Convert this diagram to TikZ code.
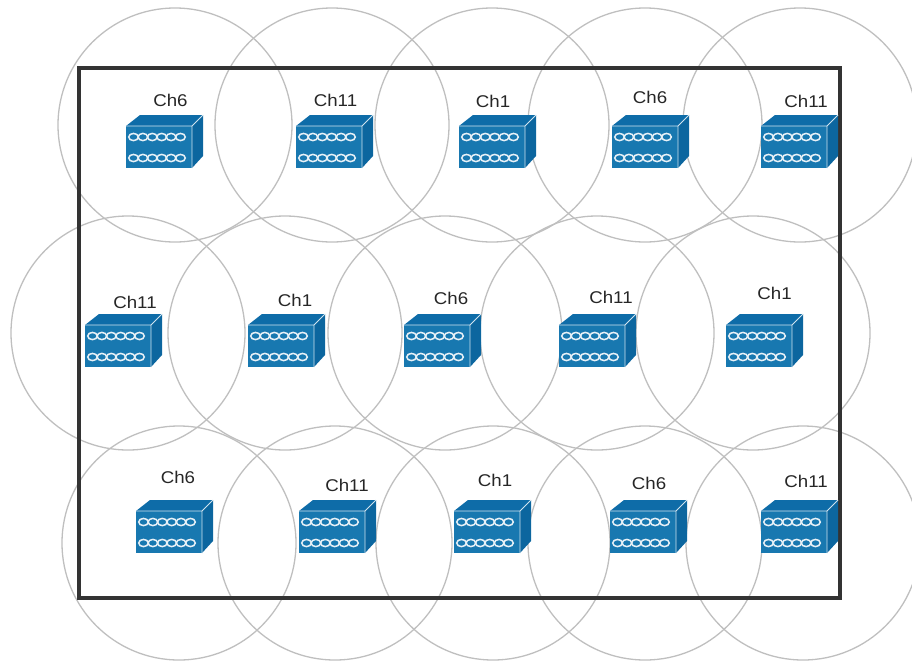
\documentclass[tikz,border=0pt]{standalone}
\usepackage{fontspec}
\setmainfont{Liberation Sans}
\usetikzlibrary{positioning}
\definecolor{apfront}{HTML}{1878B0}
\definecolor{aptop}{HTML}{0E6CA8}
\definecolor{apside}{HTML}{0C669F}

\begin{document}
\begin{tikzpicture}[
  x=1pt,y=-1pt,
  cell/.style={draw=black!25,line width=1.3pt,circle,minimum size=234pt,inner sep=0pt},
  room/.style={draw=black!80,line width=3.8pt},
  chan/.style={font=\fontsize{17}{17}\selectfont,text=black!85,inner sep=0pt,xscale=1.1},
  pics/apbox/.style={code={
    \fill[aptop] (0,11) -- (14,0) -- (77,0) -- (66,11) -- cycle;
    \fill[apside] (66,11) -- (77,0) -- (77,41) -- (66,53) -- cycle;
    \fill[apfront] (0,11) rectangle (66,53);
    \draw[white!80!apfront,line width=.8pt] (0,11) -- (66,11) -- (77,0) (66,11) -- (66,53);
    \foreach \rowy in {22,43}
      \foreach \k in {0,...,5}
        \draw[white!90!apfront,line width=1.5pt] (7.5+9.4*\k,\rowy) ellipse (4.8 and 3.6);
  }}
]
  \useasboundingbox (0,0) rectangle (912,662);

  % coverage cells
  \foreach \cx/\cy [count=\i] in {175/125,332/125,492/125,645/125,800/125,
      128/333,285/333,445/333,597/333,753/333,
      179/543,335/543,493/543,645/543,803/543}
    \node[cell] (cell\i) at (\cx,\cy) {};

  % room outline
  \node[room,minimum width=761pt,minimum height=530pt,inner sep=0pt] (room) at (459.5,333) {};

  % access points with channel labels
  \foreach \ax/\ay/\lx/\ly/\chname [count=\i] in {
      126/115/170.5/100/Ch6,296/115/335.5/100/Ch11,459/115/493/101/Ch1,612/115/650/97/Ch6,761/115/806/101/Ch11,
      85/314/135/302/Ch11,248/314/295/300/Ch1,404/314/451/298/Ch6,559/314/611/297/Ch11,726/314/774.5/293.5/Ch1,
      136/500/178/477/Ch6,299/500/347/485/Ch11,454/500/495/480/Ch1,610/500/649/483/Ch6,761/500/806/481/Ch11}
  {
    \pic (ap\i) at (\ax,\ay) {apbox};
    \node[chan] (lab\i) at (\lx,\ly) {\chname};
  }
\end{tikzpicture}
\end{document}
